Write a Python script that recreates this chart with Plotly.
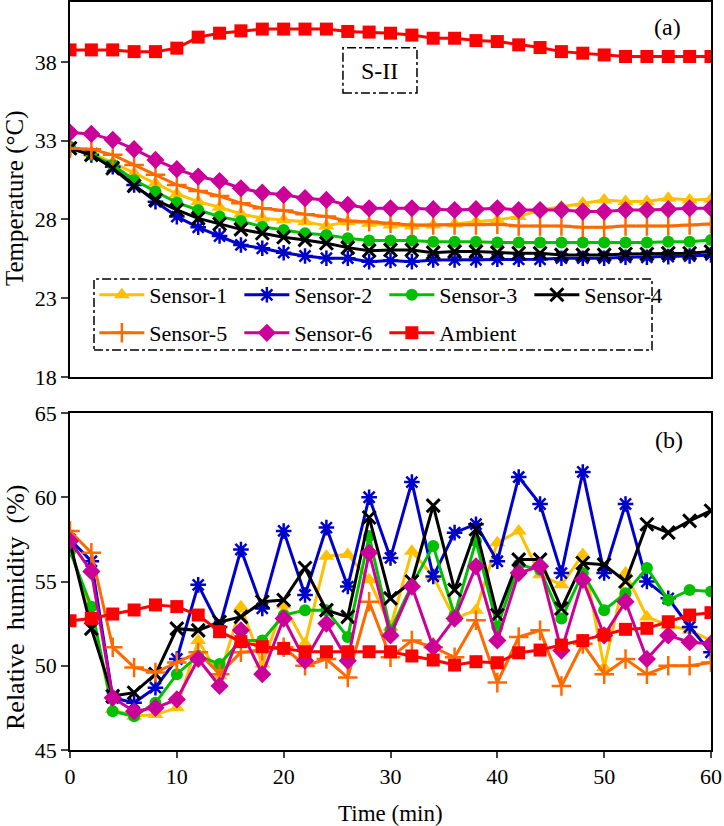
import plotly.graph_objects as go

time_min = list(range(0, 61, 2))

# Panel (a): temperature (°C)
temp_s1 = [32.62, 32.20, 31.61, 30.93, 30.30, 29.62, 29.13, 28.77, 28.35, 28.07, 27.97, 27.86, 27.59, 27.86, 27.76,
           27.65, 27.59, 27.65, 27.71, 27.86, 27.97, 28.18, 28.60, 28.81, 29.03, 29.24, 29.14, 29.14, 29.35, 29.24, 29.28]
temp_s2 = [32.52, 32.10, 31.35, 30.19, 29.13, 28.18, 27.50, 26.95, 26.38, 26.17, 25.89, 25.68, 25.54, 25.54, 25.32,
           25.39, 25.32, 25.43, 25.43, 25.43, 25.47, 25.47, 25.47, 25.54, 25.54, 25.54, 25.60, 25.60, 25.64, 25.68, 25.75]
temp_s3 = [32.62, 32.10, 31.46, 30.51, 29.77, 29.07, 28.60, 28.18, 27.90, 27.54, 27.33, 27.12, 27.02, 26.81, 26.66,
           26.66, 26.66, 26.59, 26.59, 26.59, 26.53, 26.53, 26.53, 26.53, 26.53, 26.53, 26.53, 26.53, 26.59, 26.59, 26.70]
temp_s4 = [32.52, 32.10, 31.25, 30.13, 29.24, 28.60, 28.07, 27.71, 27.37, 27.12, 26.87, 26.70, 26.49, 26.21, 26.02,
           26.06, 26.06, 25.89, 25.96, 25.96, 25.89, 25.85, 25.85, 25.75, 25.75, 25.75, 25.81, 25.81, 25.85, 25.85, 25.96]
temp_s5 = [32.52, 32.46, 32.10, 31.46, 30.83, 30.19, 29.81, 29.49, 29.03, 28.71, 28.56, 28.33, 28.18, 27.90, 27.86,
           27.76, 27.65, 27.65, 27.65, 27.65, 27.69, 27.59, 27.59, 27.59, 27.50, 27.50, 27.59, 27.59, 27.59, 27.65, 27.71]
temp_s6 = [33.51, 33.43, 33.05, 32.46, 31.78, 31.19, 30.72, 30.44, 29.98, 29.70, 29.56, 29.35, 29.24, 28.92, 28.71,
           28.71, 28.71, 28.65, 28.60, 28.65, 28.71, 28.60, 28.60, 28.60, 28.50, 28.50, 28.60, 28.60, 28.65, 28.71, 28.71]
temp_amb = [38.76, 38.76, 38.76, 38.65, 38.65, 38.87, 39.57, 39.82, 39.97, 40.08, 40.08, 40.08, 40.08, 39.93, 39.89,
            39.82, 39.70, 39.50, 39.50, 39.35, 39.29, 39.08, 38.91, 38.65, 38.55, 38.44, 38.34, 38.34, 38.34, 38.34, 38.34]

# Panel (b): relative humidity (%)
rh_s1 = [57.0, 53.0, 47.4, 47.0, 47.1, 47.5, 51.5, 49.4, 53.5, 50.1, 53.6, 51.3, 56.5, 56.6, 55.1, 52.3,
         56.8, 55.3, 52.8, 53.3, 57.3, 58.0, 55.4, 54.8, 56.6, 49.9, 55.5, 52.9, 52.4, 52.1, 51.5]
rh_s2 = [57.5, 56.2, 48.1, 47.8, 48.7, 50.4, 54.8, 52.3, 56.9, 53.4, 58.0, 54.2, 58.2, 54.7, 60.0, 56.4,
         60.9, 55.3, 57.9, 58.4, 56.2, 61.2, 59.6, 55.5, 61.5, 55.5, 59.6, 55.0, 54.0, 52.3, 50.8]
rh_s3 = [56.8, 53.5, 47.3, 47.0, 47.8, 49.5, 50.6, 50.1, 51.5, 51.5, 53.0, 53.3, 53.3, 51.7, 57.7, 52.1,
         54.8, 57.1, 53.0, 57.4, 52.3, 56.0, 55.7, 52.8, 55.5, 53.3, 54.3, 55.8, 53.9, 54.5, 54.4]
rh_s4 = [57.3, 52.2, 48.2, 48.4, 49.5, 52.2, 52.1, 52.6, 52.9, 53.8, 53.9, 55.8, 53.3, 52.9, 58.8, 54.0,
         55.0, 59.5, 54.5, 58.1, 53.0, 56.3, 56.3, 53.4, 56.1, 56.0, 55.0, 58.4, 57.9, 58.6, 59.2]
rh_s5 = [58.0, 56.7, 51.1, 49.9, 49.6, 50.2, 50.8, 49.5, 50.8, 50.9, 51.1, 50.0, 50.4, 49.3, 53.8, 50.5,
         51.5, 51.1, 50.5, 52.7, 49.0, 51.7, 52.1, 48.8, 51.3, 49.5, 50.4, 49.5, 50.0, 50.0, 50.2]
rh_s6 = [57.4, 55.6, 48.1, 47.3, 47.5, 48.0, 50.4, 48.8, 52.1, 49.5, 52.8, 50.3, 52.5, 50.3, 56.7, 51.8,
         54.7, 51.1, 52.8, 55.9, 51.5, 55.5, 55.9, 50.9, 55.1, 51.8, 53.8, 50.4, 51.8, 51.4, 51.3]
rh_amb = [52.67, 52.81, 53.07, 53.31, 53.61, 53.51, 53.01, 52.02, 51.43, 51.13, 51.03, 50.83, 50.83, 50.83, 50.83, 50.83,
          50.58, 50.34, 50.04, 50.24, 50.18, 50.77, 50.93, 51.23, 51.49, 51.83, 52.16, 52.22, 52.61, 53.01, 53.15]

series_names = ["Sensor-1", "Sensor-2", "Sensor-3", "Sensor-4", "Sensor-5", "Sensor-6", "Ambient"]
temp_data = [temp_s1, temp_s2, temp_s3, temp_s4, temp_s5, temp_s6, temp_amb]
rh_data = [rh_s1, rh_s2, rh_s3, rh_s4, rh_s5, rh_s6, rh_amb]

styles = [
    dict(color="#FFC000", symbol="triangle-up", size=14, lw=0),
    dict(color="#0000CC", symbol="asterisk-open", size=13, lw=2.5),
    dict(color="#00C000", symbol="circle", size=12, lw=0),
    dict(color="#000000", symbol="x-thin-open", size=13, lw=3),
    dict(color="#FF6A00", symbol="cross-thin-open", size=14, lw=2.5),
    dict(color="#CC0099", symbol="diamond", size=14, lw=0),
    dict(color="#FF0000", symbol="square", size=13, lw=0),
]

FONT = "Liberation Serif"

fig = go.Figure()
for i, name in enumerate(series_names):
    st = styles[i]
    marker = dict(color=st["color"], symbol=st["symbol"], size=st["size"])
    if st["lw"]:
        marker["line"] = dict(color=st["color"], width=st["lw"])
    leg = "legend" if i < 4 else "legend2"
    fig.add_trace(go.Scatter(x=time_min, y=temp_data[i], mode="lines+markers", name=name,
                             line=dict(color=st["color"], width=3), marker=marker,
                             xaxis="x", yaxis="y", legend=leg, showlegend=True))
for i, name in enumerate(series_names):
    st = styles[i]
    marker = dict(color=st["color"], symbol=st["symbol"], size=st["size"])
    if st["lw"]:
        marker["line"] = dict(color=st["color"], width=st["lw"])
    fig.add_trace(go.Scatter(x=time_min, y=rh_data[i], mode="lines+markers", name=name,
                             line=dict(color=st["color"], width=3), marker=marker,
                             xaxis="x2", yaxis="y2", showlegend=False))

H = 826
T, B = 2, 76
PH = H - T - B


def py(px):
    return 1 - (px - T) / PH


axis_common = dict(showline=True, linecolor="black", linewidth=1.5, mirror=True, showgrid=False,
                   zeroline=False, automargin=False, tickfont=dict(family=FONT, size=22, color="black"))

legend_common = dict(orientation="h", xanchor="left", yanchor="middle", itemwidth=45,
                     entrywidth=85, entrywidthmode="pixels", bgcolor="rgba(0,0,0,0)",
                     font=dict(family=FONT, size=22, color="black"), itemclick=False)

fig.update_layout(
    template="none",
    width=724, height=826,
    margin=dict(l=70, r=13, t=T, b=B, autoexpand=False),
    paper_bgcolor="white", plot_bgcolor="white",
    font=dict(family=FONT, size=22, color="black"),
    xaxis=dict(domain=[0, 1], range=[0, 60], anchor="y", showticklabels=False, ticks="", **axis_common),
    yaxis=dict(domain=[py(377), 1], range=[18, 41.8], anchor="x", tickvals=[18, 23, 28, 33, 38],
               ticks="outside", ticklen=7, tickwidth=1.5, **axis_common),
    xaxis2=dict(domain=[0, 1], range=[0, 60], anchor="y2", tickvals=[0, 10, 20, 30, 40, 50, 60],
                ticks="outside", ticklen=6, tickwidth=1.5, **axis_common),
    yaxis2=dict(domain=[0, py(413)], range=[45, 65], anchor="x2", tickvals=[45, 50, 55, 60, 65],
                ticks="outside", ticklen=7, tickwidth=1.5, **axis_common),
    legend=dict(x=0.038, y=py(295), **legend_common),
    legend2=dict(x=0.038, y=py(333), **legend_common),
)

# legend frame (dash-dot)
fig.add_shape(type="rect", xref="x", yref="y",
              x0=(94 - 70) / 10.683, x1=(652 - 70) / 10.683,
              y0=18 + (377 - 350) / 15.75, y1=18 + (377 - 279) / 15.75,
              line=dict(color="black", width=1.5, dash="dashdot"))
# S-II label frame
fig.add_shape(type="rect", xref="x", yref="y", x0=25.55, x1=32.48, y0=36.03, y1=38.89,
              line=dict(color="black", width=1.5, dash="dashdot"))
fig.add_annotation(x=29.0, y=37.4, xref="x", yref="y", text="S-II", showarrow=False,
                   font=dict(family=FONT, size=24, color="black"))
fig.add_annotation(x=55.9, y=40.2, xref="x", yref="y", text="(a)", showarrow=False,
                   font=dict(family=FONT, size=24, color="black"))
fig.add_annotation(x=56.1, y=63.4, xref="x2", yref="y2", text="(b)", showarrow=False,
                   font=dict(family=FONT, size=24, color="black"))

# axis titles
fig.add_annotation(x=(15 - 70) / 641, y=py(198), xref="paper", yref="paper", text="Temperature (°C)",
                   textangle=-90, showarrow=False, xanchor="center", yanchor="middle",
                   font=dict(family=FONT, size=25, color="black"))
fig.add_annotation(x=(15 - 70) / 641, y=py(607), xref="paper", yref="paper",
                   text="Relative\u00a0 humidity\u00a0 (%)",
                   textangle=-90, showarrow=False, xanchor="center", yanchor="middle",
                   font=dict(family=FONT, size=26, color="black"))
fig.add_annotation(x=0.5, y=py(813), xref="paper", yref="paper", text="Time (min)",
                   showarrow=False, xanchor="center", yanchor="middle",
                   font=dict(family=FONT, size=23, color="black"))

fig.write_html("out.html", config={"displayModeBar": False},
               post_script="document.body.style.margin='0';")
